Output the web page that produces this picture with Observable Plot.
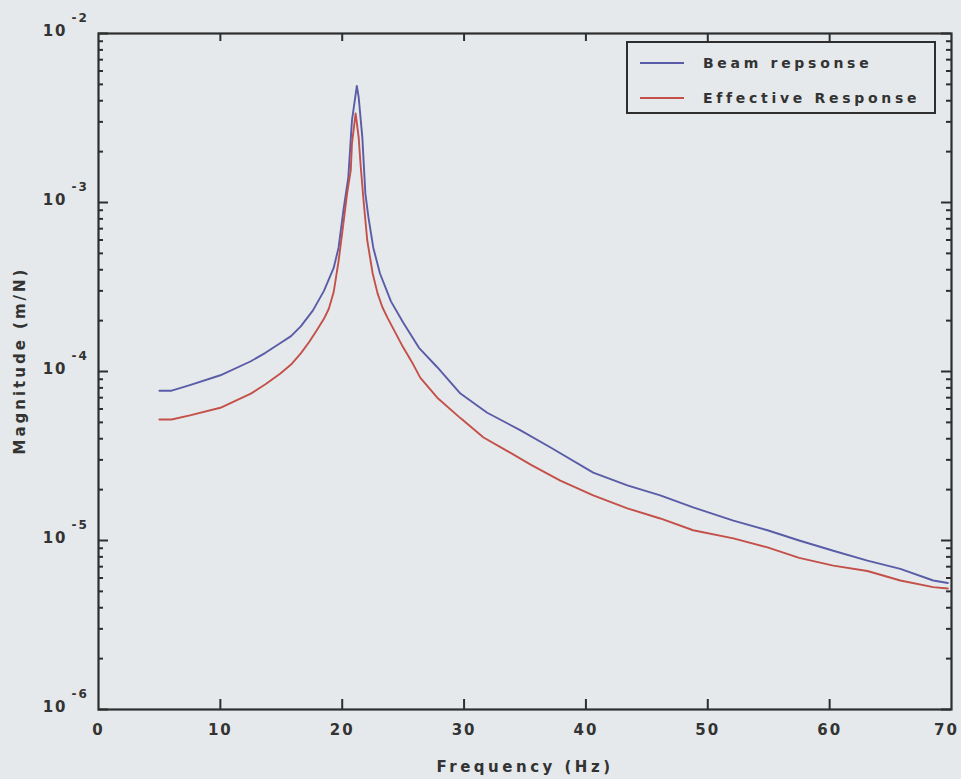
<!DOCTYPE html>
<html><head><meta charset="utf-8">
<script src="https://cdn.jsdelivr.net/npm/d3@7"></script>
<script src="https://cdn.jsdelivr.net/npm/@observablehq/plot@0.6"></script>
<style>
html,body{margin:0;padding:0;background:#e5e9eb;}
#wrap{position:relative;width:961px;height:779px;}
#legend{position:absolute;left:626px;top:41px;width:306px;height:69px;border:2px solid #2e2e2e;font-family:"DejaVu Sans",sans-serif;font-weight:bold;font-size:14px;letter-spacing:3.7px;color:#333;}
#legend .row{position:absolute;left:12px;height:20px;display:flex;align-items:center;}
#legend .sw{width:44px;height:2px;margin-right:19px;}
svg text{fill:#333;}
svg [aria-label="x-axis label"] text{letter-spacing:3.5px;}
svg [aria-label="x-axis tick label"] text{letter-spacing:2px;}
svg [aria-label="text"] text{letter-spacing:2px;}
svg .ylab text{letter-spacing:3px;}
</style></head>
<body><div id="wrap"><div id="chart"></div><div id="legend"></div></div>
<script>
const seriesNames = ["Beam repsonse", "Effective Response"];
const seriesColors = ["#5a5ca8", "#c4504a"];

const beamFreq = [5.0, 6.0, 7.5, 10.0, 12.5, 13.7, 14.9, 15.8, 16.6, 17.6, 18.5, 19.3, 19.7, 20.1, 20.5, 20.8, 21.2, 21.35, 21.65, 21.9, 22.15, 22.55, 23.1, 24.0, 25.0, 26.3, 27.8, 29.7, 31.9, 34.6, 37.1, 40.6, 43.4, 46.1, 48.8, 52.1, 54.9, 57.5, 60.3, 63.1, 65.8, 68.5, 69.7];
const beamMag = [7.7e-5, 7.7e-5, 8.3e-5, 9.5e-5, 1.15e-4, 1.29e-4, 1.47e-4, 1.62e-4, 1.85e-4, 2.3e-4, 3.0e-4, 4.1e-4, 5.4e-4, 9.0e-4, 1.41e-3, 3.06e-3, 4.9e-3, 4.2e-3, 2.43e-3, 1.13e-3, 8.2e-4, 5.4e-4, 3.8e-4, 2.6e-4, 1.95e-4, 1.38e-4, 1.06e-4, 7.4e-5, 5.7e-5, 4.5e-5, 3.55e-5, 2.52e-5, 2.12e-5, 1.85e-5, 1.57e-5, 1.31e-5, 1.15e-5, 1.0e-5, 8.7e-6, 7.6e-6, 6.8e-6, 5.8e-6, 5.6e-6];

const effFreq = [5.0, 6.0, 7.5, 10.0, 12.5, 13.7, 14.9, 15.8, 16.6, 17.3, 17.9, 18.5, 18.9, 19.3, 19.7, 20.0, 20.4, 20.7, 20.8, 21.1, 21.35, 21.5, 21.75, 22.05, 22.5, 22.9, 23.3, 23.7, 25.0, 25.8, 26.4, 27.8, 29.7, 31.6, 33.2, 35.5, 37.9, 40.6, 43.4, 46.1, 48.8, 52.1, 54.9, 57.5, 60.3, 63.1, 65.8, 68.5, 69.7];
const effMag = [5.2e-5, 5.2e-5, 5.5e-5, 6.1e-5, 7.4e-5, 8.4e-5, 9.7e-5, 1.1e-4, 1.28e-4, 1.5e-4, 1.75e-4, 2.05e-4, 2.35e-4, 2.95e-4, 4.5e-4, 6.6e-4, 1.13e-3, 1.55e-3, 2.23e-3, 3.37e-3, 2.43e-3, 1.7e-3, 1.03e-3, 6.0e-4, 3.8e-4, 2.9e-4, 2.4e-4, 2.09e-4, 1.39e-4, 1.11e-4, 9.2e-5, 7.0e-5, 5.3e-5, 4.07e-5, 3.5e-5, 2.8e-5, 2.26e-5, 1.85e-5, 1.55e-5, 1.35e-5, 1.15e-5, 1.03e-5, 9.1e-6, 7.9e-6, 7.1e-6, 6.6e-6, 5.8e-6, 5.3e-6, 5.2e-6];

const xTicks = [0, 10, 20, 30, 40, 50, 60, 70];
const yDecades = [1e-6, 1e-5, 1e-4, 1e-3, 1e-2];
const yExponents = ["-6", "-5", "-4", "-3", "-2"];
const yBase = "10";
const xLabel = "Frequency (Hz)";
const yLabel = "Magnitude (m/N)";

const data = [
  ...beamFreq.map((f, i) => ({f, m: beamMag[i], s: seriesNames[0]})),
  ...effFreq.map((f, i) => ({f, m: effMag[i], s: seriesNames[1]}))
];
const yMinor = yDecades.slice(0, -1).flatMap(d => [2,3,4,5,6,7,8,9].map(k => k * d));
const xInner = xTicks.slice(1, -1);

const W = 961, H = 779, mL = 98, mR = 10, mT = 33, mB = 70;
const iW = W - mL - mR, iH = H - mT - mB;
const ink = "#2e2e2e";

const chart = Plot.plot({
  width: W, height: H,
  marginLeft: mL, marginRight: mR, marginTop: mT, marginBottom: mB,
  style: {background: "transparent", fontFamily: "DejaVu Sans, sans-serif", fontSize: "15px", fontWeight: "bold", color: "#333"},
  x: {domain: [0, 70]},
  y: {type: "log", domain: [1e-6, 1e-2]},
  color: {domain: seriesNames, range: seriesColors},
  marks: [
    Plot.axisX(xTicks.slice(0, -1), {tickSize: 0, tickPadding: 15, label: xLabel, labelAnchor: "center", labelOffset: 62, labelArrow: "none"}),
    Plot.axisX(xTicks.slice(-1), {tickSize: 0, tickPadding: 15, dx: -5, label: null}),
    Plot.axisY({ticks: [], tickSize: 0, label: null}),
    Plot.text([yLabel], {frameAnchor: "left", text: d => d, rotate: -90, textAnchor: "middle", lineAnchor: "middle", dx: -78, dy: -11, fontSize: 15, className: "ylab"}),
    Plot.line(data, {x: "f", y: "m", z: "s", stroke: "s", strokeWidth: 1.9}),
    Plot.tickX(xInner, {x: d => d, insetTop: iH - 10, stroke: ink, strokeWidth: 2}),
    Plot.tickX(xInner, {x: d => d, insetBottom: iH - 8, stroke: ink, strokeWidth: 2}),
    Plot.tickY(yDecades, {y: d => d, insetRight: iW - 10, stroke: ink, strokeWidth: 2}),
    Plot.tickY(yMinor, {y: d => d, insetRight: iW - 5, stroke: ink, strokeWidth: 2}),
    Plot.tickY(yDecades, {y: d => d, insetLeft: iW - 10, stroke: ink, strokeWidth: 2}),
    Plot.tickY(yMinor, {y: d => d, insetLeft: iW - 5, stroke: ink, strokeWidth: 2}),
    Plot.text(yDecades, {y: d => d, frameAnchor: "left", text: () => yBase, dx: -31, dy: -2, textAnchor: "end", fontSize: 15}),
    Plot.text(yDecades, {y: d => d, frameAnchor: "left", text: (d, i) => yExponents[i], dx: -27, dy: -15, textAnchor: "start", fontSize: 12}),
    Plot.frame({stroke: ink, strokeWidth: 2.2})
  ]
});
document.getElementById("chart").appendChild(chart);

const legend = document.getElementById("legend");
seriesNames.forEach((name, i) => {
  const row = document.createElement("div");
  row.className = "row";
  row.style.top = (i === 0 ? 10 : 45) + "px";
  const sw = document.createElement("div");
  sw.className = "sw";
  sw.style.background = seriesColors[i];
  const t = document.createElement("span");
  t.textContent = name;
  row.appendChild(sw);
  row.appendChild(t);
  legend.appendChild(row);
});
</script>
</body></html>
